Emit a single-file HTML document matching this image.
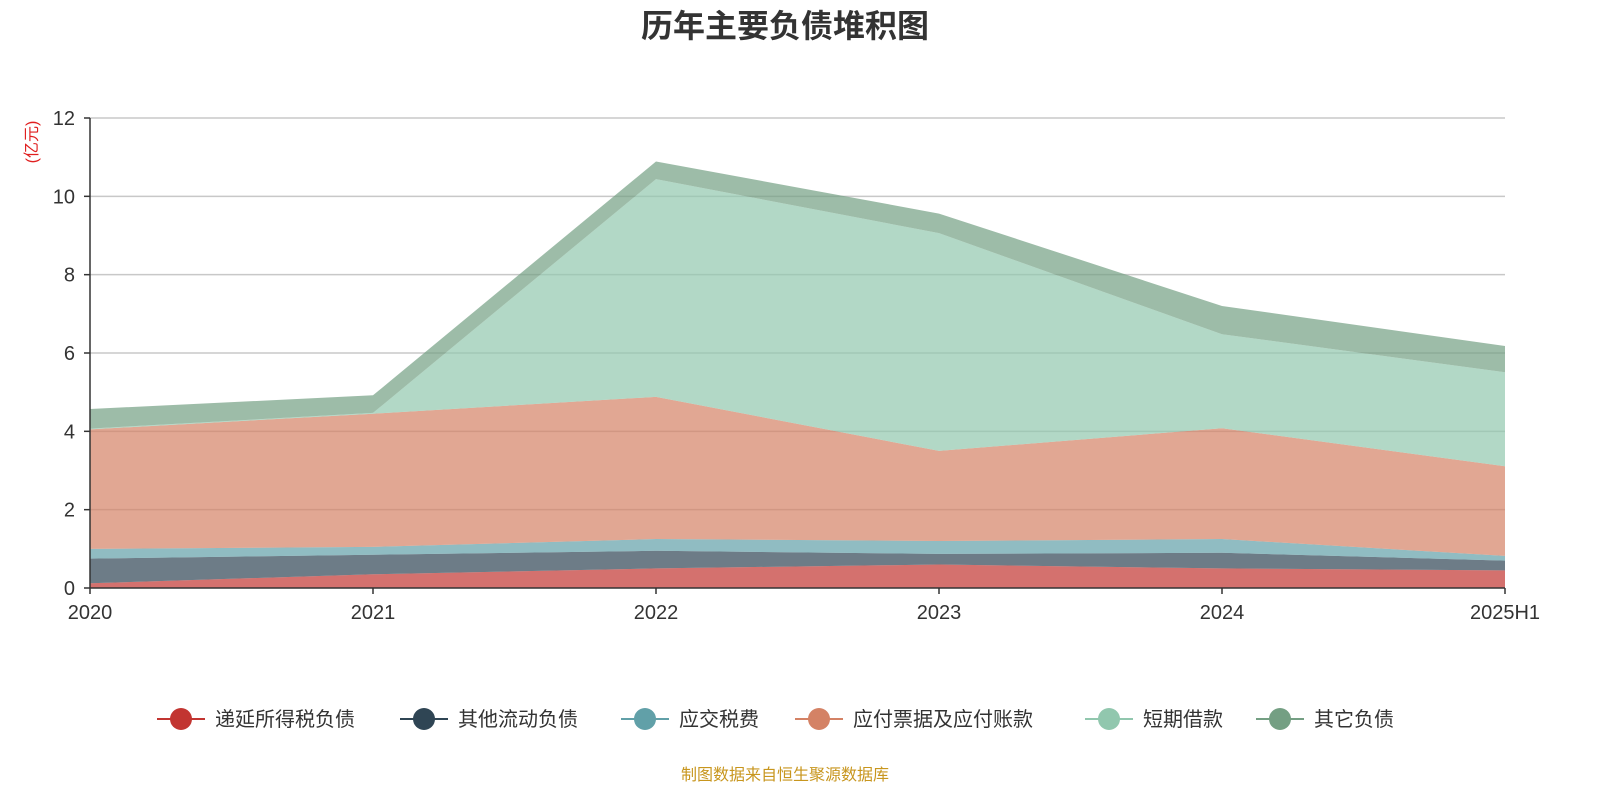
<!DOCTYPE html>
<html><head><meta charset="utf-8"><style>
body{margin:0;background:#fff;width:1600px;height:800px;overflow:hidden;font-family:"Liberation Sans","Noto Sans CJK SC",sans-serif}
</style></head><body>
<svg id="chart" width="1600" height="800" xmlns="http://www.w3.org/2000/svg" font-family="Liberation Sans, Noto Sans CJK SC, sans-serif">
<text x="785" y="37" text-anchor="middle" font-size="32" font-weight="bold" fill="#333">历年主要负债堆积图</text>
<text transform="translate(37,142) rotate(-90)" text-anchor="middle" font-size="16" fill="#e02020">(亿元)</text>
<g id="grid"></g><g id="areas"></g><g id="axes"></g><g id="legend"></g>
<text x="785" y="780" text-anchor="middle" font-size="16" fill="#c8961e">制图数据来自恒生聚源数据库</text>
</svg>
<script>
const categories=["2020","2021","2022","2023","2024","2025H1"];
const deferredTax=[0.12,0.35,0.5,0.6,0.5,0.45];
const otherCurrent=[0.63,0.5,0.45,0.27,0.4,0.25];
const taxPayable=[0.25,0.2,0.3,0.33,0.35,0.12];
const notesPayable=[3.05,3.4,3.63,2.3,2.83,2.29];
const shortLoans=[0.02,0.02,5.56,5.56,2.4,2.4];
const otherLiab=[0.5,0.45,0.45,0.5,0.72,0.67];
const yTicks=[0,2,4,6,8,10,12];
const seriesNames=["递延所得税负债","其他流动负债","应交税费","应付票据及应付账款","短期借款","其它负债"];
const series=[deferredTax,otherCurrent,taxPayable,notesPayable,shortLoans,otherLiab];
const colors=["#c23531","#2f4554","#61a0a8","#d48265","#91c7ae","#749f83"];
const X0=90,X1=1505,Y0=588,Y1=118,YMAX=12;
const NS="http://www.w3.org/2000/svg";
const x=i=>X0+(X1-X0)*i/(categories.length-1);
const y=v=>Y0-(Y0-Y1)*v/YMAX;
function mk(t,a,p){const e=document.createElementNS(NS,t);for(const k in a)e.setAttribute(k,a[k]);p.appendChild(e);return e;}
const grid=document.getElementById('grid'),areas=document.getElementById('areas'),axes=document.getElementById('axes'),legend=document.getElementById('legend');
yTicks.forEach(t=>{
 if(t>0){const g=mk('line',{x1:X0,x2:X1,y1:y(t),y2:y(t),stroke:'#c8c8c8','stroke-width':1.5},grid);
 
 }
 const tx=mk('text',{x:X0-15,y:y(t)+7,'text-anchor':'end','font-size':20,fill:'#333'},axes);tx.textContent=t;
 
 
 mk('line',{x1:X0-6,x2:X0,y1:y(t),y2:y(t),stroke:'#333','stroke-width':1.5},axes);
});
let cum=categories.map(()=>0);
series.forEach((s,si)=>{
 const lo=cum.slice();const hi=cum.map((c,i)=>c+s[i]);
 let d='M'+hi.map((v,i)=>x(i)+','+y(v)).join(' L');
 for(let i=lo.length-1;i>=0;i--)d+=' L'+x(i)+','+y(lo[i]);
 const p=mk('path',{d:d+'Z',fill:colors[si],'fill-opacity':0.7},areas);
 
 
 cum=hi;
});
mk('line',{x1:X0,x2:X0,y1:Y1,y2:Y0,stroke:'#333','stroke-width':1.5},axes);
mk('line',{x1:X0,x2:X1,y1:Y0,y2:Y0,stroke:'#333','stroke-width':1.5},axes);
categories.forEach((c,i)=>{
 mk('line',{x1:x(i),x2:x(i),y1:Y0,y2:Y0+6,stroke:'#333','stroke-width':1.5},axes);
 const t=mk('text',{x:x(i),y:Y0+31,'text-anchor':'middle','font-size':20,fill:'#333'},axes);t.textContent=c;
 
 
});
const lx=[157,400,621,795,1085,1256];
seriesNames.forEach((n,i)=>{
 const g=mk('g',{},legend);
 
 
 mk('line',{x1:lx[i],x2:lx[i]+48,y1:719,y2:719,stroke:colors[i],'stroke-width':2},g);
 mk('circle',{cx:lx[i]+24,cy:719,r:11,fill:colors[i]},g);
 const t=mk('text',{x:lx[i]+58,y:726,'font-size':20,fill:'#333'},g);t.textContent=n;
});
</script>
</body></html>
